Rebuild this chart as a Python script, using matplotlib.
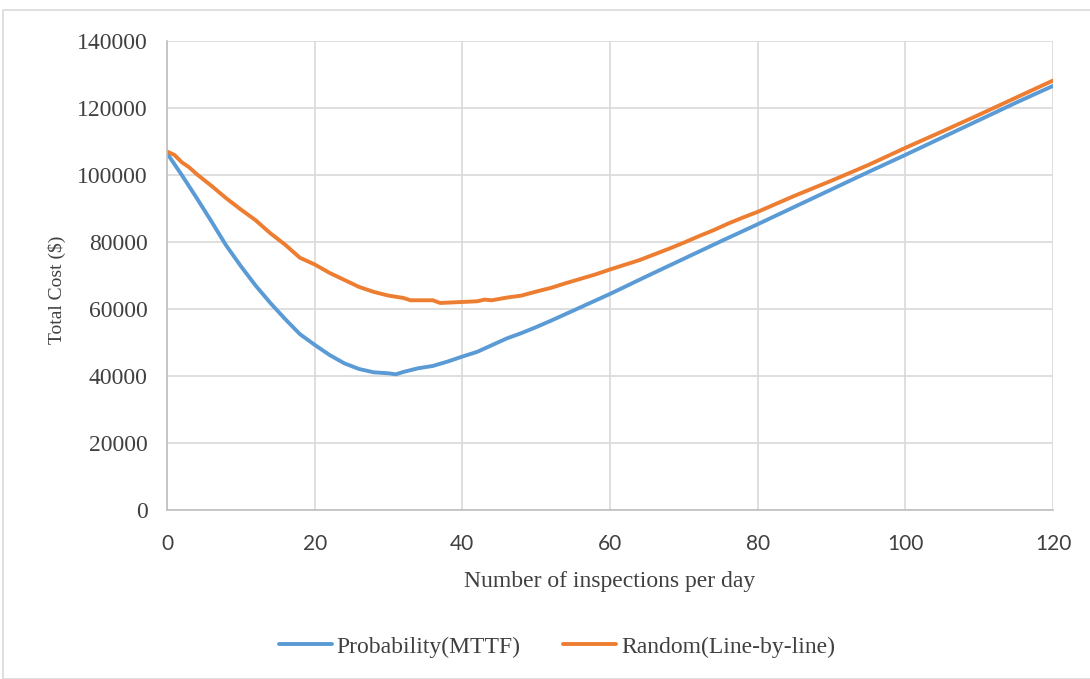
import matplotlib
matplotlib.use("Agg")
import matplotlib.pyplot as plt
from matplotlib.patches import Rectangle

x_prob = [0, 2, 4, 6, 8, 10, 12, 14, 16, 18, 20, 22, 24, 26, 28, 30, 31, 32, 34, 36, 38,
          40, 42, 44, 46, 48, 50, 52, 54, 56, 58, 60, 65, 70, 75, 80, 85, 90, 95, 100,
          105, 110, 115, 120]
y_prob = [106500, 100000, 93200, 86200, 79000, 72800, 67000, 61800, 57000, 52500, 49300,
          46300, 43800, 42100, 41100, 40800, 40500, 41200, 42300, 43000, 44300,
          45800, 47200, 49200, 51200, 52800, 54600, 56500, 58500, 60500, 62500, 64500,
          69800, 75000, 80200, 85300, 90500, 95700, 100900, 106000, 111200, 116400,
          121600, 126600]

x_rand = [0, 1, 2, 3, 4, 6, 8, 10, 12, 14, 16, 18, 20, 22, 24, 26, 28, 30, 32, 33, 36, 37,
          40, 42, 43, 44, 46, 48, 50, 52, 54, 56, 58, 60, 62, 64, 66, 68, 70, 72, 74, 76,
          78, 80, 85, 90, 95, 100, 105, 110, 115, 120]
y_rand = [107000, 106000, 103800, 102300, 100300, 96800, 93100, 89700, 86500, 82600,
          79200, 75300, 73300, 70800, 68700, 66600, 65100, 64000, 63300, 62600, 62600,
          61800, 62100, 62300, 62800, 62600, 63400, 64000, 65200, 66300, 67700, 69000,
          70300, 71800, 73200, 74600, 76300, 78000, 79800, 81700, 83500, 85500, 87300,
          89000, 93800, 98300, 103000, 108100, 113000, 118000, 123100, 128200]

series_labels = ["Probability(MTTF)", "Random(Line-by-line)"]
x_ticks = [0, 20, 40, 60, 80, 100, 120]
y_ticks = [0, 20000, 40000, 60000, 80000, 100000, 120000, 140000]

plt.rcParams['font.family'] = ['Liberation Serif', 'DejaVu Serif']
fig = plt.figure(figsize=(10.9, 6.79), dpi=100)
fig.patches.append(Rectangle((3/1090, 0.0), 1.2, 669/679, transform=fig.transFigure,
                             fill=False, edgecolor='#d9d9d9', linewidth=1.2))
ax = fig.add_axes([167/1090, 1-510/679, (1053-167)/1090, (510-41)/679])

ax.plot(x_prob, y_prob, color='#5b9bd5', lw=2.8, label=series_labels[0], solid_capstyle='round')
ax.plot(x_rand, y_rand, color='#ed7d31', lw=2.8, label=series_labels[1], solid_capstyle='round')

ax.set_xlim(0, 120)
ax.set_ylim(0, 140000)
ax.set_xticks(x_ticks)
ax.set_yticks(y_ticks)
ax.set_xticklabels([str(v) for v in x_ticks], fontfamily=['Lato', 'DejaVu Sans'], fontsize=15)
ax.set_yticklabels([str(v) for v in y_ticks], fontsize=17)
ax.grid(True, color='#d9d9d9', lw=1.2)
ax.set_axisbelow(True)
for s in ['top', 'right']:
    ax.spines[s].set_visible(False)
for s in ['left', 'bottom']:
    ax.spines[s].set_color('#bfbfbf')
    ax.spines[s].set_linewidth(1.2)
ax.tick_params(axis='both', length=0, colors='#404040')
ax.tick_params(axis='y', pad=14)
ax.tick_params(axis='x', pad=17.5)
ax.set_xlabel("Number of inspections per day", fontsize=17, color='#404040', labelpad=12)
ax.set_ylabel("Total Cost ($)", fontsize=14, color='#404040')
ax.yaxis.set_label_coords(-(167 - 66) / 886, (510 - 290) / 469)

leg = ax.legend(loc='center', bbox_to_anchor=(557/1090, 1-647/679), bbox_transform=fig.transFigure,
                ncol=2, frameon=False, fontsize=17, handlelength=2.25, columnspacing=1.8,
                handletextpad=0.2)
for t in leg.get_texts():
    t.set_color('#404040')

fig.savefig("out.png", dpi=100)
